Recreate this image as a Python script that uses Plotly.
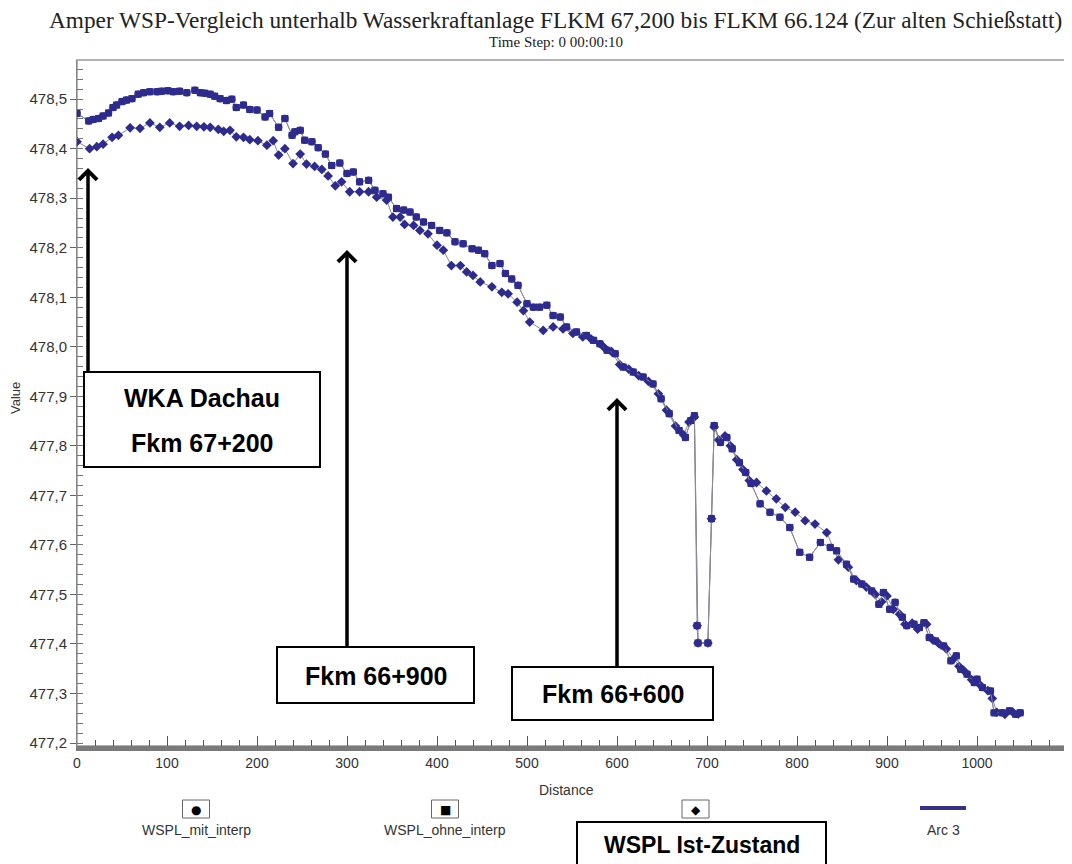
import plotly.graph_objects as go

# ---------------- data ----------------
dist_ohne = [0, 13, 18, 24, 29, 35, 40, 44, 50, 55, 61, 68, 74, 81, 89, 94, 101, 107, 114, 122,
             131, 137, 142, 148, 153, 159, 166, 172, 177, 185, 192, 200, 209, 214, 224, 231, 239, 242, 248, 253,
             261, 268, 276, 283, 292, 300, 307, 314, 324, 331, 340, 346, 355, 363, 370, 377, 385, 394, 403, 411,
             420, 429, 439, 446, 453, 461, 470, 476, 483, 490, 500, 507, 514, 522, 529, 537, 544, 555, 566, 574,
             581, 589, 598, 607, 618, 629, 640, 649, 658, 669, 676, 682, 686, 689, 690, 701, 705, 708, 715, 722,
             728, 736, 743, 749, 759, 770, 781, 792, 803, 814, 826, 837, 844, 855, 863, 872, 883, 891, 896, 903,
             909, 917, 922, 930, 936, 941, 947, 954, 963, 971, 977, 982, 989, 997, 1000, 1006, 1015, 1019, 1028, 1036,
             1043, 1048]
wspl_ohne = [478.471, 478.456, 478.459, 478.461, 478.466, 478.472, 478.483, 478.488, 478.495, 478.498,
             478.501, 478.510, 478.513, 478.515, 478.515, 478.516, 478.517, 478.515, 478.516, 478.513,
             478.518, 478.513, 478.512, 478.510, 478.506, 478.501, 478.497, 478.500, 478.483, 478.488,
             478.479, 478.478, 478.464, 478.471, 478.443, 478.461, 478.427, 478.434, 478.437, 478.417,
             478.414, 478.402, 478.389, 478.366, 478.371, 478.350, 478.353, 478.333, 478.336, 478.316,
             478.309, 478.302, 478.279, 478.276, 478.272, 478.262, 478.252, 478.245, 478.235, 478.230,
             478.212, 478.208, 478.198, 478.195, 478.188, 478.164, 478.168, 478.148, 478.137, 478.124,
             478.087, 478.080, 478.080, 478.084, 478.063, 478.060, 478.040, 478.030, 478.023, 478.013,
             478.006, 477.993, 477.986, 477.959, 477.949, 477.939, 477.925, 477.895, 477.865, 477.831,
             477.817, 477.851, 477.861, 477.437, 477.402, 477.402, 477.653, 477.841, 477.807, 477.817,
             477.794, 477.766, 477.746, 477.724, 477.683, 477.666, 477.656, 477.635, 477.585, 477.575,
             477.605, 477.595, 477.588, 477.561, 477.531, 477.521, 477.507, 477.480, 477.504, 477.470,
             477.484, 477.454, 477.437, 477.440, 477.433, 477.443, 477.413, 477.406, 477.396, 477.366,
             477.376, 477.349, 477.339, 477.322, 477.329, 477.312, 477.305, 477.261, 477.261, 477.265,
             477.258, 477.261]

# "mit interp" lies on top of "ohne interp"
dist_mit = list(dist_ohne)
wspl_mit = list(wspl_ohne)

dist_ist = [0, 14, 22, 29, 39, 46, 59, 70, 81, 92, 103, 114, 124, 133, 141, 148, 157, 163, 170, 177,
            185, 192, 201, 211, 218, 224, 231, 240, 248, 255, 264, 272, 279, 287, 294, 303, 314, 324, 333, 344,
            351, 359, 364, 374, 381, 390, 400, 407, 416, 426, 433, 440, 448, 461, 472, 479, 489, 496, 503, 518,
            529, 540, 551, 562, 571, 585, 594, 603, 613, 624, 635, 646, 655, 665, 674, 680, 686, 689, 690, 701,
            705, 708, 713, 720, 726, 733, 740, 747, 755, 766, 777, 787, 798, 809, 820, 833, 846, 857, 866, 877,
            887, 894, 900, 907, 914, 920, 928, 934, 944, 950, 958, 966, 974, 980, 986, 994, 1003, 1012, 1017, 1022,
            1031, 1040, 1046]
wspl_ist = [478.414, 478.400, 478.404, 478.409, 478.423, 478.427, 478.442, 478.441, 478.452, 478.443,
            478.452, 478.445, 478.447, 478.445, 478.444, 478.443, 478.439, 478.435, 478.437, 478.424,
            478.423, 478.418, 478.416, 478.407, 478.416, 478.387, 478.400, 478.370, 478.389, 478.369,
            478.364, 478.358, 478.345, 478.325, 478.333, 478.313, 478.313, 478.313, 478.302, 478.296,
            478.262, 478.262, 478.247, 478.245, 478.235, 478.228, 478.205, 478.195, 478.164, 478.164,
            478.151, 478.144, 478.131, 478.121, 478.110, 478.107, 478.090, 478.073, 478.050, 478.033,
            478.040, 478.036, 478.027, 478.020, 478.016, 478.000, 477.990, 477.964, 477.955, 477.942,
            477.930, 477.905, 477.872, 477.840, 477.822, 477.848, 477.858, 477.437, 477.402, 477.402,
            477.653, 477.838, 477.812, 477.820, 477.800, 477.772, 477.752, 477.730, 477.726, 477.709,
            477.693, 477.676, 477.666, 477.649, 477.642, 477.625, 477.570, 477.555, 477.528, 477.515,
            477.500, 477.485, 477.497, 477.470, 477.460, 477.440, 477.442, 477.430, 477.440, 477.410,
            477.400, 477.390, 477.370, 477.355, 477.345, 477.328, 477.318, 477.306, 477.290, 477.262,
            477.258, 477.262, 477.259]

title_text = "Amper WSP-Vergleich unterhalb Wasserkraftanlage FLKM 67,200 bis FLKM 66.124 (Zur alten Schießstatt)"
subtitle_text = "Time Step: 0 00:00:10"
legend_names = ["WSPL_mit_interp", "WSPL_ohne_interp", "WSPL Ist-Zustand", "Arc 3"]

# ---------------- layout geometry (page pixels; the page body adds an 8px offset) ----------------
OFF = 8
W, H = 1072 - OFF, 864 - OFF
P_LEFT, P_RIGHT, P_TOP, P_BOTTOM = 77, 1067, 60, 746      # plot area in page pixels
ML, MT = P_LEFT - OFF, P_TOP - OFF
MR, MB = (W + OFF) - P_RIGHT, (H + OFF) - P_BOTTOM
PW, PH = P_RIGHT - P_LEFT, P_BOTTOM - P_TOP
MARK = "#2e2b8e"
LINE = "#8a8a9a"
SANS = "Liberation Sans, Arial, sans-serif"
SERIF = "Liberation Serif, Times New Roman, serif"


def px(x):
    return (x - P_LEFT) / PW


def py(y):
    return (P_BOTTOM - y) / PH


fig = go.Figure()
fig.add_trace(go.Scatter(x=dist_mit, y=wspl_mit, mode="lines+markers", name=legend_names[0],
                         line=dict(color=LINE, width=1),
                         marker=dict(symbol="circle", size=7.5, color=MARK)))
fig.add_trace(go.Scatter(x=dist_ist, y=wspl_ist, mode="lines+markers", name=legend_names[2],
                         line=dict(color=LINE, width=1),
                         marker=dict(symbol="diamond", size=7.5, color=MARK)))
fig.add_trace(go.Scatter(x=dist_ohne, y=wspl_ohne, mode="lines+markers", name=legend_names[1],
                         line=dict(color=LINE, width=1),
                         marker=dict(symbol="square", size=7, color=MARK)))

shapes = []
annotations = []

# plot frame
shapes.append(dict(type="rect", xref="paper", yref="paper", x0=0, x1=1, y0=0, y1=1,
                   line=dict(color="#9a9a9a", width=1.5), layer="below"))
shapes.append(dict(type="line", xref="paper", yref="paper", x0=px(1069), x1=px(1069), y0=py(750), y1=py(62),
                   line=dict(color="#b0b0b0", width=2)))


def box(x0, x1, y0, y1):
    shapes.append(dict(type="rect", xref="paper", yref="paper", x0=px(x0), x1=px(x1), y0=py(y1), y1=py(y0),
                       line=dict(color="black", width=2), fillcolor="white", layer="above"))


def label(x, y, text, size=25, bold=True, color="black", font=SANS, **kw):
    annotations.append(dict(xref="paper", yref="paper", x=px(x), y=py(y), text=("<b>%s</b>" % text) if bold else text,
                            showarrow=False, xanchor="center", yanchor="middle",
                            font=dict(family=font, size=size, color=color), **kw))


def arrow(x, ytip, ytail):
    annotations.append(dict(xref="paper", yref="paper", x=px(x), y=py(ytip), ax=0, ay=ytail - ytip,
                            axref="pixel", ayref="pixel", text="", showarrow=True,
                            arrowhead=4, arrowsize=1.0, arrowwidth=3.5, arrowcolor="black", standoff=0))


arrow(88, 168, 373)
arrow(347, 250, 648)
arrow(617, 398, 668)

box(84, 320, 372, 467)
label(202, 398, "WKA Dachau")
label(202, 443, "Fkm 67+200")
box(277, 474, 647, 703)
label(375.5, 676, "Fkm 66+900")
box(512, 713, 667, 720)
label(612.5, 694, "Fkm 66+600")

# legend (manual, symbol box above name)
for cx, sym in [(196, "●"), (445, "■"), (695.5, "◆")]:
    shapes.append(dict(type="rect", xref="paper", yref="paper", x0=px(cx - 13.5), x1=px(cx + 13.5),
                       y0=py(818), y1=py(800), line=dict(color="#666666", width=1), fillcolor="white"))
    label(cx, 809.5, sym, size=12, bold=False, font="DejaVu Sans, sans-serif")
shapes.append(dict(type="line", xref="paper", yref="paper", x0=px(920), x1=px(966), y0=py(808), y1=py(808),
                   line=dict(color="#34318a", width=4)))
label(196, 830, legend_names[0], size=14, bold=False, color="#333333")
label(445, 830, legend_names[1], size=14, bold=False, color="#333333")
label(943, 830, legend_names[3], size=14, bold=False, color="#333333")
box(577, 826, 822, 868)
label(701.5, 845, legend_names[2], size=23)

# titles
label(555, 20, title_text, size=23.3, bold=False, color="#222222", font=SERIF)
label(556, 42, subtitle_text, size=15, bold=False, color="#222222", font=SERIF)
label(566, 790, "Distance", size=14, bold=False, color="#333333")
label(15, 398, "Value", size=13, bold=False, color="#333333", textangle=-90)

fig.update_layout(
    width=W, height=H,
    margin=dict(l=ML, r=MR, t=MT, b=MB, pad=0, autoexpand=False),
    paper_bgcolor="white", plot_bgcolor="white",
    showlegend=False,
    separators=",.",
    font=dict(family=SANS, size=14, color="#333333"),
    shapes=shapes, annotations=annotations,
)
fig.update_xaxes(range=[0, 1100], tick0=0, dtick=100, ticks="inside", ticklen=10, tickwidth=1,
                 tickcolor="#555555", showgrid=False, zeroline=False, automargin=False,
                 showline=True, linecolor="#7a7a7a", linewidth=5,
                 tickfont=dict(size=14, color="#333333"),
                 minor=dict(dtick=20, ticks="inside", ticklen=6, tickcolor="#555555", showgrid=False))
fig.update_yaxes(range=[477.194, 478.579], tick0=477.2, dtick=0.1, tickformat=".1f",
                 ticks="outside", ticklen=6, tickwidth=1, tickcolor="#666666", automargin=False,
                 showgrid=False, zeroline=False, showline=True, linecolor="#888888", linewidth=1,
                 tickfont=dict(size=15, color="#333333"),
                 minor=dict(dtick=0.02, ticks="inside", ticklen=6, tickcolor="#777777", showgrid=False))

fig.write_html("out.html")
